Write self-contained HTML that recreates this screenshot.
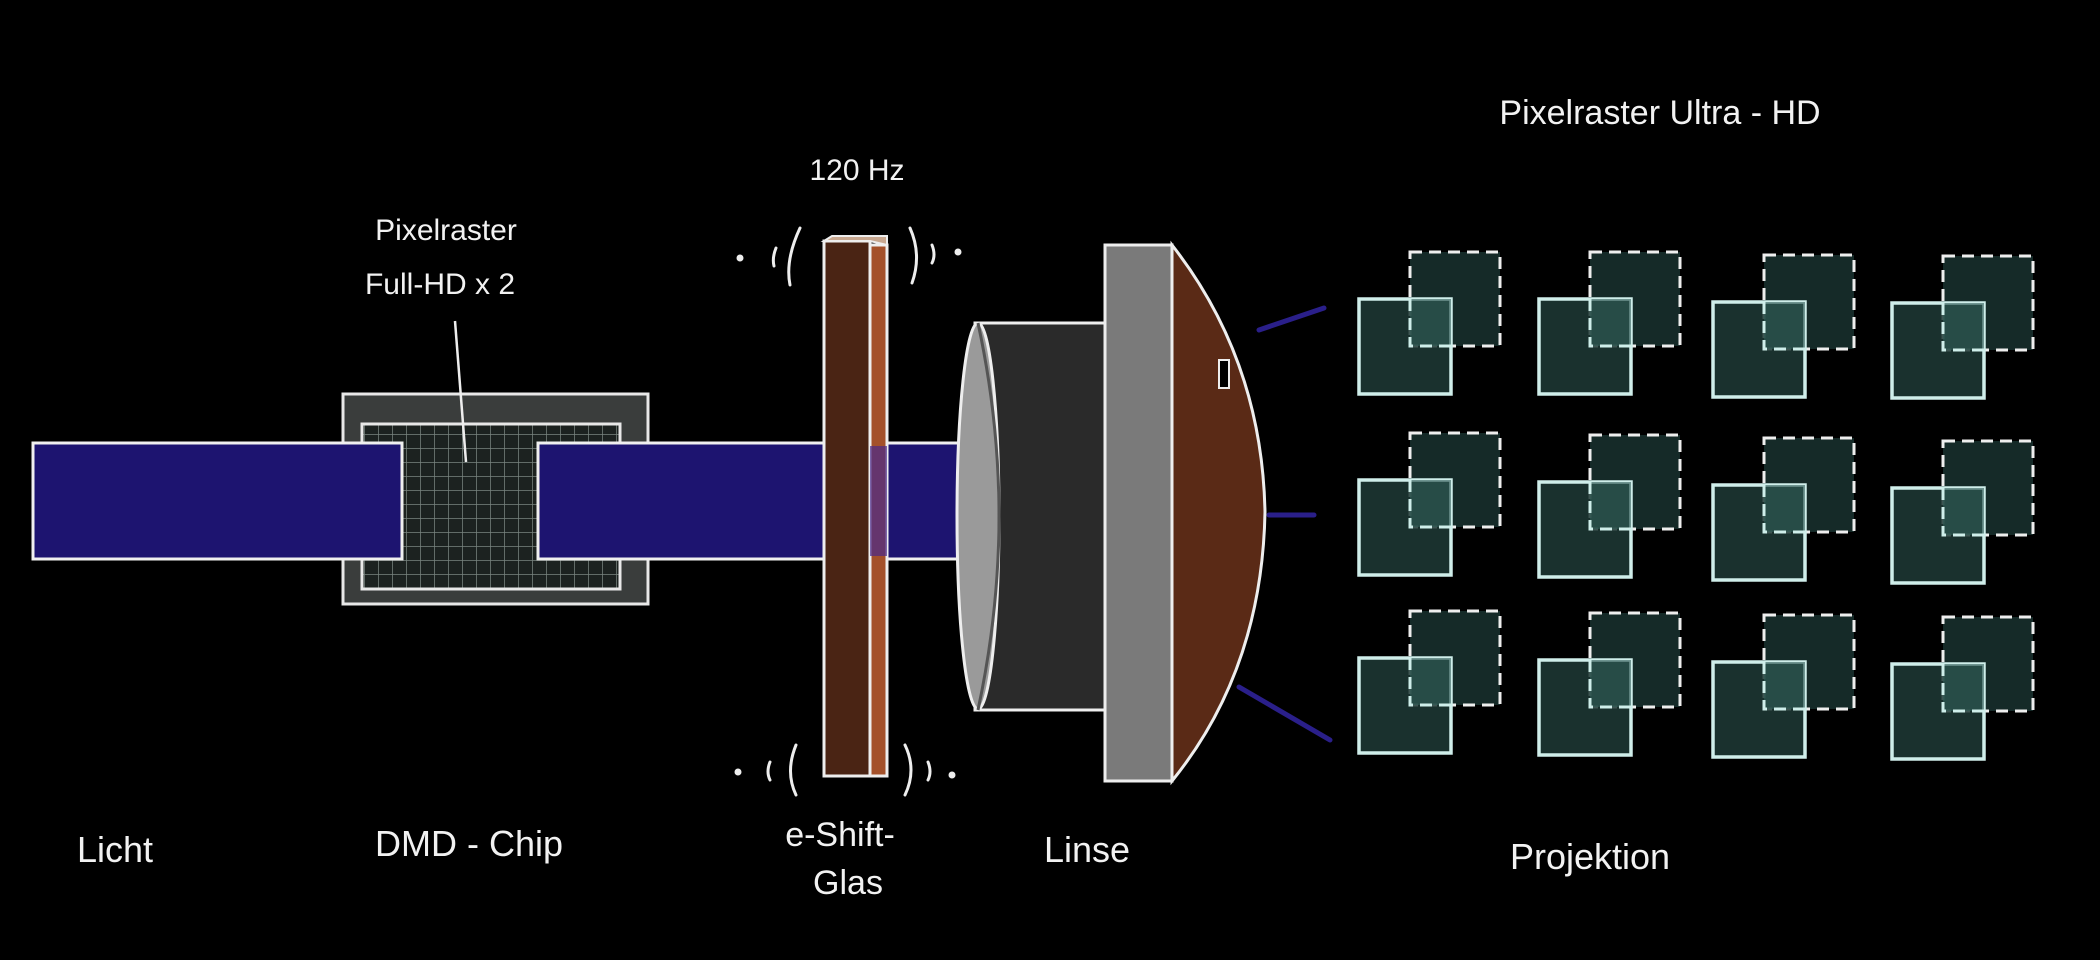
<!DOCTYPE html>
<html><head><meta charset="utf-8"><style>
html,body{margin:0;padding:0;background:#000;}
svg{display:block}
text{font-family:"Liberation Sans",sans-serif;fill:#f2f2f2;}
</style></head><body>
<svg width="2100" height="960" viewBox="0 0 2100 960" xmlns="http://www.w3.org/2000/svg">
<defs>
<pattern id="grid" width="14" height="14" patternUnits="userSpaceOnUse">
<rect width="14" height="14" fill="#1c2220"/>
<path d="M0 0H14M0 0V14" stroke="#7a8580" stroke-width="1.5"/>
</pattern>
</defs>
<rect width="2100" height="960" fill="#000"/>

<!-- text -->
<text x="446" y="240" font-size="30" text-anchor="middle">Pixelraster</text>
<text x="440" y="294" font-size="30" text-anchor="middle">Full-HD x 2</text>
<text x="857" y="180" font-size="30" text-anchor="middle">120 Hz</text>
<text x="1660" y="124" font-size="34" text-anchor="middle">Pixelraster  Ultra - HD</text>
<text x="115" y="862" font-size="36" text-anchor="middle">Licht</text>
<text x="469" y="856" font-size="36" text-anchor="middle">DMD - Chip</text>
<text x="840" y="846" font-size="34" text-anchor="middle">e-Shift-</text>
<text x="848" y="894" font-size="34" text-anchor="middle">Glas</text>
<text x="1087" y="862" font-size="36" text-anchor="middle">Linse</text>
<text x="1590" y="869" font-size="36" text-anchor="middle">Projektion</text>

<!-- DMD chip -->
<rect x="343" y="394" width="305" height="210" fill="#3a3d3c" stroke="#e8e8e8" stroke-width="3"/>
<rect x="362" y="424" width="258" height="165" fill="url(#grid)" stroke="#e8e8e8" stroke-width="3"/>
<line x1="455" y1="321" x2="466" y2="462" stroke="#eee" stroke-width="2.5"/>

<!-- beams -->
<rect x="33" y="443" width="369" height="116" fill="#1d1470" stroke="#f0f0f0" stroke-width="3"/>
<rect x="538" y="443" width="300" height="116" fill="#1d1470" stroke="#f0f0f0" stroke-width="3"/>
<rect x="838" y="444" width="155" height="114" fill="#1d1470"/>
<line x1="838" y1="443" x2="993" y2="443" stroke="#f0f0f0" stroke-width="3"/>
<line x1="838" y1="559" x2="993" y2="559" stroke="#f0f0f0" stroke-width="3"/>

<!-- glass bar -->
<rect x="824" y="241" width="46" height="535" fill="#4a2414" stroke="#eee" stroke-width="3"/>
<rect x="870" y="245" width="17" height="531" fill="#a4512a" stroke="#eee" stroke-width="3"/>
<polygon points="824,241 832,236 887,236 887,245 870,241" fill="#c8a890" stroke="#eee" stroke-width="2"/>
<rect x="870" y="446" width="17" height="110" fill="#4a2a8a" opacity="0.7"/>
<!-- vibration marks -->
<g fill="none" stroke="#eee" stroke-width="3" stroke-linecap="round">
<path d="M800 228 Q785 260 790 285"/><path d="M776 248 Q772 258 774 266"/><circle cx="740" cy="258" r="2" fill="#eee"/>
<path d="M910 228 Q922 255 912 283"/><path d="M932 245 Q936 255 932 263"/><circle cx="958" cy="252" r="2" fill="#eee"/>
<path d="M796 745 Q785 772 796 795"/><path d="M770 762 Q766 772 770 780"/><circle cx="738" cy="772" r="2" fill="#eee"/>
<path d="M905 745 Q917 770 905 795"/><path d="M928 762 Q932 772 928 780"/><circle cx="952" cy="775" r="2" fill="#eee"/>
</g>

<!-- lens barrel -->
<rect x="975" y="323" width="132" height="387" fill="#2a2a2a" stroke="#eee" stroke-width="3"/>
<ellipse cx="978" cy="516" rx="21" ry="193" fill="#9a9a9a" stroke="#eee" stroke-width="3"/>
<path d="M978 323 Q999 420 999 516 Q999 612 978 710" fill="none" stroke="#555" stroke-width="3"/>
<rect x="1105" y="245" width="67" height="536" fill="#7a7a7a" stroke="#eee" stroke-width="3"/>
<path d="M1172 245 Q1262 360 1265 512 Q1262 670 1172 781 Z" fill="#5a2a16" stroke="#eee" stroke-width="3"/>
<rect x="1219" y="360" width="10" height="28" fill="#000" stroke="#eee" stroke-width="2"/>
<!-- rays -->
<g stroke="#2a1f8a" stroke-width="5" stroke-linecap="round">
<line x1="1259" y1="330" x2="1324" y2="308"/>
<line x1="1269" y1="515" x2="1314" y2="515"/>
<line x1="1239" y1="687" x2="1330" y2="740"/>
</g>

<!-- pixel grid -->
<g id="cells">
<g transform="translate(1359,299)"><rect x="51" y="-47" width="90" height="94" fill="#152a28" stroke="#eee" stroke-width="3" stroke-dasharray="12 7"/><rect x="0" y="0" width="92" height="95" fill="#1e3936" fill-opacity="0.85" stroke="#cfeeea" stroke-width="3.5"/><rect x="51" y="0" width="41" height="47" fill="#2f5a55" opacity="0.6"/><path d="M51 0V47H92" fill="none" stroke="#cfeeea" stroke-width="3" stroke-dasharray="12 7"/></g>
<g transform="translate(1539,299)"><rect x="51" y="-47" width="90" height="94" fill="#152a28" stroke="#eee" stroke-width="3" stroke-dasharray="12 7"/><rect x="0" y="0" width="92" height="95" fill="#1e3936" fill-opacity="0.85" stroke="#cfeeea" stroke-width="3.5"/><rect x="51" y="0" width="41" height="47" fill="#2f5a55" opacity="0.6"/><path d="M51 0V47H92" fill="none" stroke="#cfeeea" stroke-width="3" stroke-dasharray="12 7"/></g>
<g transform="translate(1713,302)"><rect x="51" y="-47" width="90" height="94" fill="#152a28" stroke="#eee" stroke-width="3" stroke-dasharray="12 7"/><rect x="0" y="0" width="92" height="95" fill="#1e3936" fill-opacity="0.85" stroke="#cfeeea" stroke-width="3.5"/><rect x="51" y="0" width="41" height="47" fill="#2f5a55" opacity="0.6"/><path d="M51 0V47H92" fill="none" stroke="#cfeeea" stroke-width="3" stroke-dasharray="12 7"/></g>
<g transform="translate(1892,303)"><rect x="51" y="-47" width="90" height="94" fill="#152a28" stroke="#eee" stroke-width="3" stroke-dasharray="12 7"/><rect x="0" y="0" width="92" height="95" fill="#1e3936" fill-opacity="0.85" stroke="#cfeeea" stroke-width="3.5"/><rect x="51" y="0" width="41" height="47" fill="#2f5a55" opacity="0.6"/><path d="M51 0V47H92" fill="none" stroke="#cfeeea" stroke-width="3" stroke-dasharray="12 7"/></g>

<g transform="translate(1359,480)"><rect x="51" y="-47" width="90" height="94" fill="#152a28" stroke="#eee" stroke-width="3" stroke-dasharray="12 7"/><rect x="0" y="0" width="92" height="95" fill="#1e3936" fill-opacity="0.85" stroke="#cfeeea" stroke-width="3.5"/><rect x="51" y="0" width="41" height="47" fill="#2f5a55" opacity="0.6"/><path d="M51 0V47H92" fill="none" stroke="#cfeeea" stroke-width="3" stroke-dasharray="12 7"/></g>
<g transform="translate(1539,482)"><rect x="51" y="-47" width="90" height="94" fill="#152a28" stroke="#eee" stroke-width="3" stroke-dasharray="12 7"/><rect x="0" y="0" width="92" height="95" fill="#1e3936" fill-opacity="0.85" stroke="#cfeeea" stroke-width="3.5"/><rect x="51" y="0" width="41" height="47" fill="#2f5a55" opacity="0.6"/><path d="M51 0V47H92" fill="none" stroke="#cfeeea" stroke-width="3" stroke-dasharray="12 7"/></g>
<g transform="translate(1713,485)"><rect x="51" y="-47" width="90" height="94" fill="#152a28" stroke="#eee" stroke-width="3" stroke-dasharray="12 7"/><rect x="0" y="0" width="92" height="95" fill="#1e3936" fill-opacity="0.85" stroke="#cfeeea" stroke-width="3.5"/><rect x="51" y="0" width="41" height="47" fill="#2f5a55" opacity="0.6"/><path d="M51 0V47H92" fill="none" stroke="#cfeeea" stroke-width="3" stroke-dasharray="12 7"/></g>
<g transform="translate(1892,488)"><rect x="51" y="-47" width="90" height="94" fill="#152a28" stroke="#eee" stroke-width="3" stroke-dasharray="12 7"/><rect x="0" y="0" width="92" height="95" fill="#1e3936" fill-opacity="0.85" stroke="#cfeeea" stroke-width="3.5"/><rect x="51" y="0" width="41" height="47" fill="#2f5a55" opacity="0.6"/><path d="M51 0V47H92" fill="none" stroke="#cfeeea" stroke-width="3" stroke-dasharray="12 7"/></g>

<g transform="translate(1359,658)"><rect x="51" y="-47" width="90" height="94" fill="#152a28" stroke="#eee" stroke-width="3" stroke-dasharray="12 7"/><rect x="0" y="0" width="92" height="95" fill="#1e3936" fill-opacity="0.85" stroke="#cfeeea" stroke-width="3.5"/><rect x="51" y="0" width="41" height="47" fill="#2f5a55" opacity="0.6"/><path d="M51 0V47H92" fill="none" stroke="#cfeeea" stroke-width="3" stroke-dasharray="12 7"/></g>
<g transform="translate(1539,660)"><rect x="51" y="-47" width="90" height="94" fill="#152a28" stroke="#eee" stroke-width="3" stroke-dasharray="12 7"/><rect x="0" y="0" width="92" height="95" fill="#1e3936" fill-opacity="0.85" stroke="#cfeeea" stroke-width="3.5"/><rect x="51" y="0" width="41" height="47" fill="#2f5a55" opacity="0.6"/><path d="M51 0V47H92" fill="none" stroke="#cfeeea" stroke-width="3" stroke-dasharray="12 7"/></g>
<g transform="translate(1713,662)"><rect x="51" y="-47" width="90" height="94" fill="#152a28" stroke="#eee" stroke-width="3" stroke-dasharray="12 7"/><rect x="0" y="0" width="92" height="95" fill="#1e3936" fill-opacity="0.85" stroke="#cfeeea" stroke-width="3.5"/><rect x="51" y="0" width="41" height="47" fill="#2f5a55" opacity="0.6"/><path d="M51 0V47H92" fill="none" stroke="#cfeeea" stroke-width="3" stroke-dasharray="12 7"/></g>
<g transform="translate(1892,664)"><rect x="51" y="-47" width="90" height="94" fill="#152a28" stroke="#eee" stroke-width="3" stroke-dasharray="12 7"/><rect x="0" y="0" width="92" height="95" fill="#1e3936" fill-opacity="0.85" stroke="#cfeeea" stroke-width="3.5"/><rect x="51" y="0" width="41" height="47" fill="#2f5a55" opacity="0.6"/><path d="M51 0V47H92" fill="none" stroke="#cfeeea" stroke-width="3" stroke-dasharray="12 7"/></g>
</g>
</svg>
</body></html>
